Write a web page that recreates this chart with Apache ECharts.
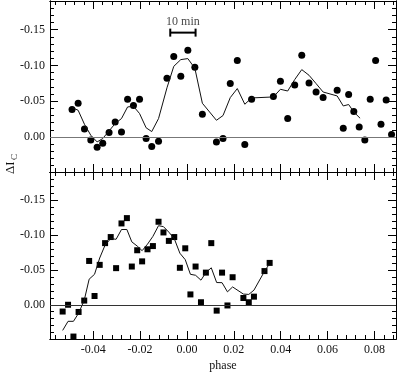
<!DOCTYPE html>
<html lang="en">
<head>
    <meta charset="UTF-8">
    <title>phase</title>
    <script src="https://cdn.jsdelivr.net/npm/echarts@6/dist/echarts.min.js"></script>
    <style>html,body{margin:0;padding:0;background:#fff;}</style>
</head>
<body>
<div id="main" style="width:397px;height:373px;"></div>
<script type="text/javascript">
    // upper panel: dots and running mean
    var topPhase = [-0.0490, -0.0464, -0.0437, -0.0410, -0.0383, -0.0359, -0.0332, -0.0306, -0.0279, -0.0253,
        -0.0228, -0.0202, -0.0174, -0.0150, -0.0121, -0.0085, -0.0056, -0.0026, 0.0004, 0.0034,
        0.0066, 0.0126, 0.0154, 0.0185, 0.0215, 0.0247, 0.0276, 0.0369, 0.0399, 0.0430,
        0.0460, 0.0490, 0.0521, 0.0551, 0.0581, 0.0641, 0.0667, 0.0690, 0.0712, 0.0735,
        0.0759, 0.0782, 0.0805, 0.0828, 0.0850, 0.0873];
    var topDelta = [-0.0383, -0.0471, -0.0112, 0.0042, 0.0144, 0.0088, -0.0061, -0.0209, -0.0070, -0.0527,
        -0.0438, -0.0527, 0.0022, 0.0134, 0.0060, -0.0820, -0.1123, -0.0848, -0.1211, -0.0973,
        -0.0317, 0.0070, 0.0022, -0.0746, -0.1067, 0.0106, -0.0527, -0.0564, -0.0778, -0.0257,
        -0.0726, -0.1141, -0.0754, -0.0628, -0.0550, -0.0652, -0.0122, -0.0592, -0.0355, -0.0140,
        0.0042, -0.0527, -0.1067, -0.0177, -0.0517, -0.0034];
    var topLinePhase = [-0.0490, -0.0464, -0.0437, -0.0410, -0.0383, -0.0359, -0.0332, -0.0306, -0.0279, -0.0253,
        -0.0228, -0.0202, -0.0174, -0.0150, -0.0121, -0.0085, -0.0056, -0.0026, 0.0004, 0.0034,
        0.0066, 0.0126, 0.0154, 0.0185, 0.0215, 0.0247, 0.0276, 0.0369, 0.0399, 0.0430,
        0.0460, 0.0490, 0.0521, 0.0551, 0.0581, 0.0641, 0.0667, 0.0690, 0.0712, 0.0739];
    var topLineDelta = [-0.0411, -0.0373, -0.0177, -0.0024, 0.0070, 0.0022, -0.0084, -0.0187, -0.0257, -0.0419,
        -0.0429, -0.0327, -0.0128, -0.0075, -0.0257, -0.0687, -0.0987, -0.1081, -0.1095, -0.0959,
        -0.0471, -0.0233, -0.0299, -0.0550, -0.0676, -0.0457, -0.0545, -0.0559, -0.0666, -0.0642,
        -0.0802, -0.0941, -0.0862, -0.0746, -0.0628, -0.0573, -0.0433, -0.0453, -0.0349, -0.0261];

    // lower panel: squares and running mean
    var botPhase = [-0.0530, -0.0507, -0.0484, -0.0462, -0.0438, -0.0417, -0.0394, -0.0372, -0.0349, -0.0325,
        -0.0302, -0.0279, -0.0256, -0.0235, -0.0212, -0.0191, -0.0168, -0.0145, -0.0121, -0.0100,
        -0.0077, -0.0054, -0.0030, -0.0007, 0.0015, 0.0037, 0.0060, 0.0081, 0.0104, 0.0127,
        0.0150, 0.0173, 0.0195, 0.0241, 0.0264, 0.0286, 0.0331, 0.0353];
    var botDelta = [0.0097, 0.0000, 0.0455, 0.0103, -0.0060, -0.0627, -0.0125, -0.0571, -0.0882, -0.0969,
        -0.0524, -0.1164, -0.1240, -0.0547, -0.0780, -0.0621, -0.0794, -0.0840, -0.1188, -0.1035,
        -0.0914, -0.0969, -0.0529, -0.0808, -0.0148, -0.0547, -0.0036, -0.0460, -0.0882, 0.0084,
        -0.0460, 0.0010, -0.0394, -0.0097, -0.0036, -0.0116, -0.0482, -0.0599];
    var botLinePhase = [-0.0530, -0.0507, -0.0484, -0.0462, -0.0438, -0.0417, -0.0394, -0.0372, -0.0349, -0.0325,
        -0.0302, -0.0279, -0.0256, -0.0235, -0.0212, -0.0191, -0.0168, -0.0145, -0.0121, -0.0100,
        -0.0077, -0.0054, -0.0030, -0.0007, 0.0015, 0.0037, 0.0060, 0.0081, 0.0104, 0.0127,
        0.0150, 0.0173, 0.0195, 0.0241, 0.0264, 0.0286, 0.0331, 0.0350];
    var botLineDelta = [0.0367, 0.0237, 0.0237, 0.0121, -0.0064, -0.0366, -0.0436, -0.0669, -0.0854, -0.0947,
        -0.0937, -0.1077, -0.1077, -0.0900, -0.0840, -0.0774, -0.0868, -0.0979, -0.1132, -0.1118,
        -0.1039, -0.0947, -0.0738, -0.0645, -0.0436, -0.0422, -0.0352, -0.0460, -0.0529, -0.0318,
        -0.0316, -0.0185, -0.0255, -0.0153, -0.0148, -0.0209, -0.0478, -0.0575];

    // axes ranges and tick labels
    var xMin = -0.0584, xMax = 0.0892;
    var yMin = -0.19, yMax = 0.049;
    var xMajor = [-0.04, -0.02, 0.00, 0.02, 0.04, 0.06, 0.08];
    var yMajor = [-0.15, -0.10, -0.05, 0.00];

    // 10 min bar
    var barPhase = [-0.0071, 0.0037];
    var barDelta = -0.1458;

    var xMinor = [];
    for (var i = -14; i <= 22; i++) xMinor.push(+(i * 0.004).toFixed(3));
    var yMinor = [];
    for (var j = -19; j <= 4; j++) yMinor.push(+(j * 0.01).toFixed(2));

    var font = 'Liberation Serif';

    function pairs(xs, ys) {
        var out = [];
        for (var k = 0; k < xs.length; k++) out.push([xs[k], ys[k]]);
        return out;
    }

    function xAxisDef(grid, pos, ticks, len, withLabels) {
        return {
            type: 'value', gridIndex: grid, position: pos, min: xMin, max: xMax,
            axisLine: {show: true, onZero: false, lineStyle: {color: '#000', width: 1}},
            axisTick: {show: true, inside: true, length: len, customValues: ticks, lineStyle: {color: '#000'}},
            axisLabel: withLabels ? {
                show: true, customValues: xMajor, margin: 5, color: '#111',
                fontFamily: font, fontSize: 12,
                formatter: function (v) { return v.toFixed(2); }
            } : {show: false},
            splitLine: {show: false}
        };
    }

    function yAxisDef(grid, pos, ticks, len, withLabels) {
        return {
            type: 'value', gridIndex: grid, position: pos, min: yMin, max: yMax, inverse: true,
            axisLine: {show: true, onZero: false, lineStyle: {color: '#000', width: 1}},
            axisTick: {show: true, inside: true, length: len, customValues: ticks, lineStyle: {color: '#000'}},
            axisLabel: withLabels ? {
                show: true, customValues: yMajor, margin: 5, color: '#111',
                fontFamily: font, fontSize: 12,
                formatter: function (v) { return v.toFixed(2); }
            } : {show: false},
            splitLine: {show: false}
        };
    }

    var xAxes = [], yAxes = [];
    for (var g = 0; g < 2; g++) {
        xAxes.push(xAxisDef(g, 'bottom', xMajor, 8, g === 1));
        xAxes.push(xAxisDef(g, 'bottom', xMinor, 4, false));
        xAxes.push(xAxisDef(g, 'top', xMajor, 8, false));
        xAxes.push(xAxisDef(g, 'top', xMinor, 4, false));
        yAxes.push(yAxisDef(g, 'left', yMajor, 8, true));
        yAxes.push(yAxisDef(g, 'left', yMinor, 4, false));
        yAxes.push(yAxisDef(g, 'right', yMajor, 8, false));
        yAxes.push(yAxisDef(g, 'right', yMinor, 4, false));
    }
    xAxes[4].name = 'phase';
    xAxes[4].nameLocation = 'middle';
    xAxes[4].nameGap = 21;
    xAxes[4].nameTextStyle = {fontFamily: font, fontSize: 12, color: '#111'};

    var myChart = echarts.init(document.getElementById('main'));
    var option = {
        animation: false,
        backgroundColor: '#fff',
        grid: [
            {left: 50, right: 1, top: 1, height: 171},
            {left: 50, right: 1, top: 172, height: 171}
        ],
        xAxis: xAxes,
        yAxis: yAxes,
        graphic: [
            {type: 'text', x: 4, y: 174, rotation: Math.PI / 2,
                style: {text: 'ΔI', fontFamily: font, fontSize: 13, fill: '#111'}},
            {type: 'text', x: 10.5, y: 160, rotation: Math.PI / 2,
                style: {text: 'C', fontFamily: font, fontSize: 9, fill: '#111'}}
        ],
        series: [
            {
                type: 'line', xAxisIndex: 0, yAxisIndex: 0,
                data: pairs(topLinePhase, topLineDelta),
                showSymbol: false, lineStyle: {color: '#111', width: 1},
                markLine: {
                    silent: true, symbol: 'none', label: {show: false},
                    lineStyle: {color: '#777', width: 1, type: 'solid'},
                    data: [{yAxis: 0}]
                }
            },
            {
                type: 'scatter', xAxisIndex: 0, yAxisIndex: 0,
                data: pairs(topPhase, topDelta),
                symbol: 'circle', symbolSize: 7, itemStyle: {color: '#000', opacity: 1}
            },
            {
                type: 'line', xAxisIndex: 4, yAxisIndex: 4,
                data: pairs(botLinePhase, botLineDelta),
                showSymbol: false, lineStyle: {color: '#111', width: 1},
                markLine: {
                    silent: true, symbol: 'none', label: {show: false},
                    lineStyle: {color: '#333', width: 1, type: 'solid'},
                    data: [{yAxis: 0}]
                }
            },
            {
                type: 'scatter', xAxisIndex: 4, yAxisIndex: 4,
                data: pairs(botPhase, botDelta),
                symbol: 'rect', symbolSize: 6, itemStyle: {color: '#000', opacity: 1}
            },
            { // 10 min bar
                type: 'line', xAxisIndex: 0, yAxisIndex: 0,
                data: [[barPhase[0], barDelta], [barPhase[1], barDelta]],
                symbol: 'rect', symbolSize: [2, 8], itemStyle: {color: '#000', opacity: 1},
                lineStyle: {color: '#000', width: 2}
            },
            {
                type: 'scatter', xAxisIndex: 0, yAxisIndex: 0,
                data: [[(barPhase[0] + barPhase[1]) / 2, barDelta]],
                symbolSize: 0,
                label: {show: true, position: 'top', distance: 5, formatter: '10 min',
                    fontFamily: font, fontSize: 12, color: '#111'}
            }
        ]
    };
    myChart.setOption(option);
</script>
</body>
</html>
